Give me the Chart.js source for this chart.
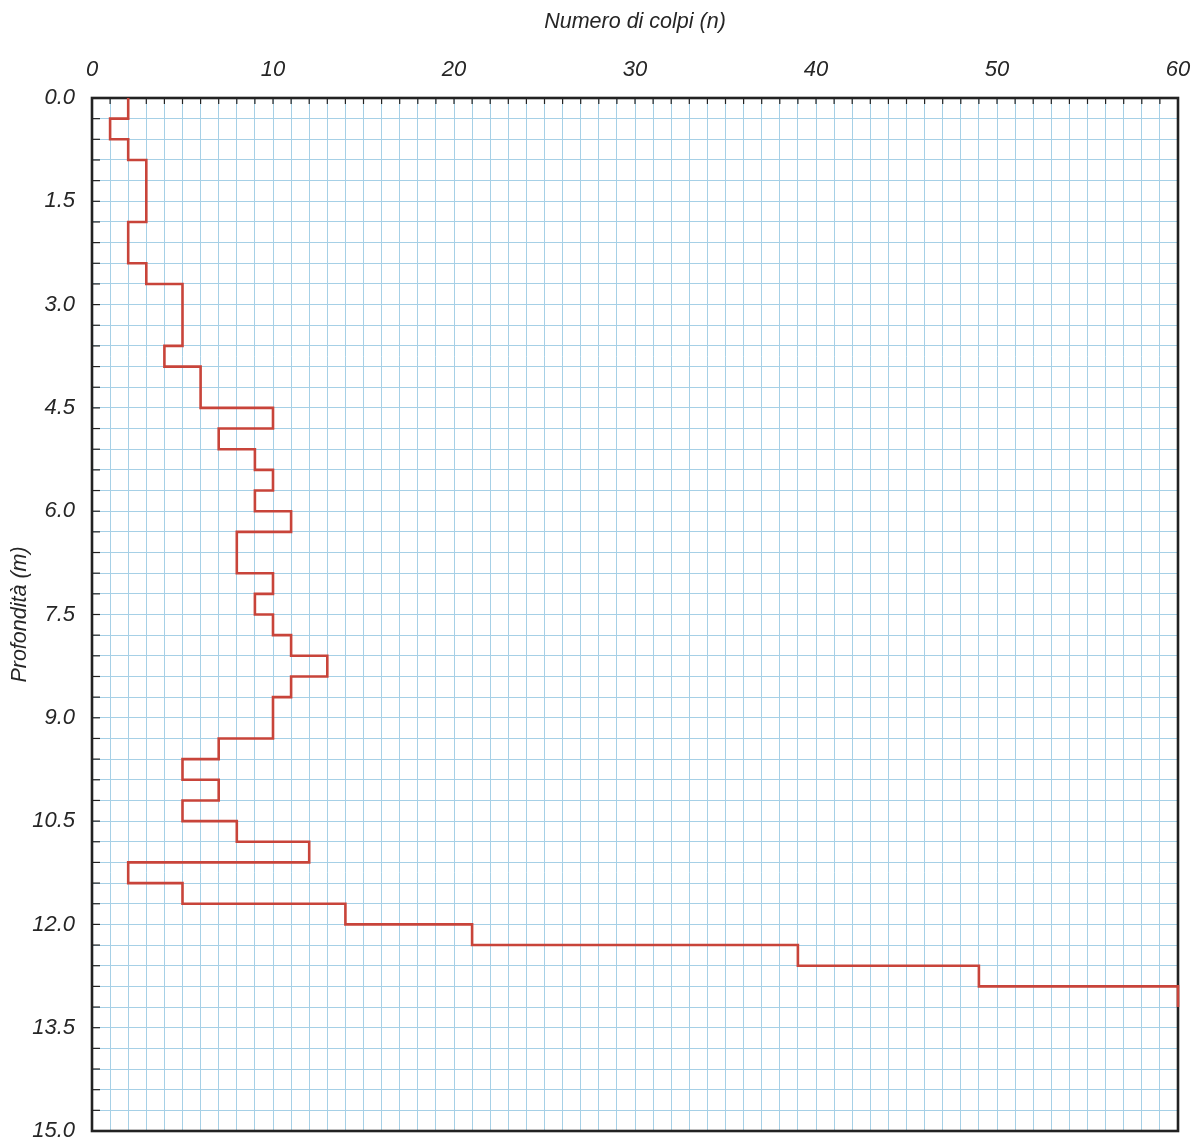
<!DOCTYPE html>
<html>
<head>
<meta charset="utf-8">
<script src="https://cdn.jsdelivr.net/npm/chart.js@4"></script>
<style>
    html, body { margin: 0; padding: 0; background: #fff; }
    #wrap { width: 1193px; height: 1141px; position: relative; }
</style>
</head>
<body>
<div id="wrap"><canvas id="chart"></canvas></div>
<script>
// Depth boundaries of each reading (m) and blows counted in that interval
const depths = [0.0, 0.3, 0.6, 0.9, 1.2, 1.5, 1.8, 2.1, 2.4, 2.7, 3.0, 3.3, 3.6, 3.9, 4.2,
    4.5, 4.8, 5.1, 5.4, 5.7, 6.0, 6.3, 6.6, 6.9, 7.2, 7.5, 7.8, 8.1, 8.4, 8.7, 9.0,
    9.3, 9.6, 9.9, 10.2, 10.5, 10.8, 11.1, 11.4, 11.7, 12.0, 12.3, 12.6, 12.9, 13.2];
const blows = [2, 1, 2, 3, 3, 3, 2, 2, 3, 5, 5, 5, 4, 6, 6,
    10, 7, 9, 10, 9, 11, 8, 8, 10, 9, 10, 11, 13, 11, 10, 10,
    7, 5, 7, 5, 8, 12, 2, 5, 14, 21, 39, 49, 60];

// Tick labels shown on the axes (grid runs every 1 blow and every 0.3 m)
const blowTickLabels = [0, 10, 20, 30, 40, 50, 60];
const depthTickLabels = [0.0, 1.5, 3.0, 4.5, 6.0, 7.5, 9.0, 10.5, 12.0, 13.5, 15.0];

const GRID_COLOR = '#a6d0e6';
const FRAME_COLOR = '#222222';
const LINE_COLOR = '#c8443a';
const TEXT_COLOR = '#262626';
const FONT = 'Liberation Sans, Arial, sans-serif';

// Build the stepped profile: each reading is a vertical segment over its interval
const profile = [];
blows.forEach((n, i) => {
    profile.push({ x: n, y: depths[i] });
    profile.push({ x: n, y: depths[i + 1] });
});

const isLabel = (value, list) => list.some(v => Math.abs(v - value) < 1e-6);

// Frame and inward tick marks like the printed form
const framePlugin = {
    id: 'frame',
    beforeDatasetsDraw(chart) {
        const { ctx, chartArea: a, scales } = chart;
        ctx.save();
        ctx.strokeStyle = FRAME_COLOR;
        ctx.lineWidth = 1.2;
        scales.x.ticks.forEach(t => {
            const px = scales.x.getPixelForValue(t.value);
            ctx.beginPath();
            ctx.moveTo(px, a.top);
            ctx.lineTo(px, a.top + 6);
            ctx.stroke();
        });
        scales.y.ticks.forEach(t => {
            const py = scales.y.getPixelForValue(t.value);
            ctx.beginPath();
            ctx.moveTo(a.left, py);
            ctx.lineTo(a.left + 8, py);
            ctx.stroke();
        });
        ctx.lineWidth = 2.6;
        ctx.strokeRect(a.left, a.top, a.right - a.left, a.bottom - a.top);
        ctx.restore();
    }
};

new Chart(document.getElementById('chart'), {
    type: 'scatter',
    data: {
        datasets: [{
            label: 'Numero di colpi',
            data: profile,
            showLine: true,
            borderColor: LINE_COLOR,
            borderWidth: 2.6,
            pointRadius: 0,
            tension: 0,
            borderJoinStyle: 'miter',
            clip: 4
        }]
    },
    options: {
        responsive: true,
        maintainAspectRatio: false,
        animation: false,
        layout: { padding: { left: 0, top: 0, right: 15, bottom: 10 } },
        plugins: {
            legend: { display: false },
            tooltip: { enabled: false }
        },
        scales: {
            x: {
                type: 'linear',
                position: 'top',
                min: 0,
                max: 60,
                border: { display: false },
                grid: { color: GRID_COLOR, lineWidth: 1, drawTicks: false },
                ticks: {
                    stepSize: 1,
                    maxTicksLimit: 100,
                    autoSkip: false,
                    maxRotation: 0,
                    padding: 15,
                    color: TEXT_COLOR,
                    font: { family: FONT, size: 22, style: 'italic' },
                    callback: (value) => isLabel(value, blowTickLabels) ? String(value) : ''
                },
                title: {
                    display: true,
                    text: 'Numero di colpi (n)',
                    color: TEXT_COLOR,
                    font: { family: FONT, size: 21.5, style: 'italic' },
                    padding: { top: 9, bottom: 0 }
                },
                afterFit: (scale) => {
                    scale.height = 98;
                    scale.paddingLeft = 0;
                    scale.paddingRight = 0;
                }
            },
            y: {
                type: 'linear',
                reverse: true,
                min: 0,
                max: 15,
                border: { display: false },
                grid: { color: GRID_COLOR, lineWidth: 1, drawTicks: false },
                ticks: {
                    stepSize: 0.3,
                    maxTicksLimit: 100,
                    autoSkip: false,
                    padding: 17,
                    color: TEXT_COLOR,
                    font: { family: FONT, size: 22, style: 'italic' },
                    callback: (value) => isLabel(value, depthTickLabels) ? value.toFixed(1) : ''
                },
                title: {
                    display: true,
                    text: 'Profondità (m)',
                    color: TEXT_COLOR,
                    font: { family: FONT, size: 21.5, style: 'italic' },
                    padding: { top: 7, bottom: 0 }
                },
                afterFit: (scale) => {
                    scale.width = 92;
                    scale.paddingTop = 0;
                    scale.paddingBottom = 0;
                }
            }
        }
    },
    plugins: [framePlugin]
});
</script>
</body>
</html>
